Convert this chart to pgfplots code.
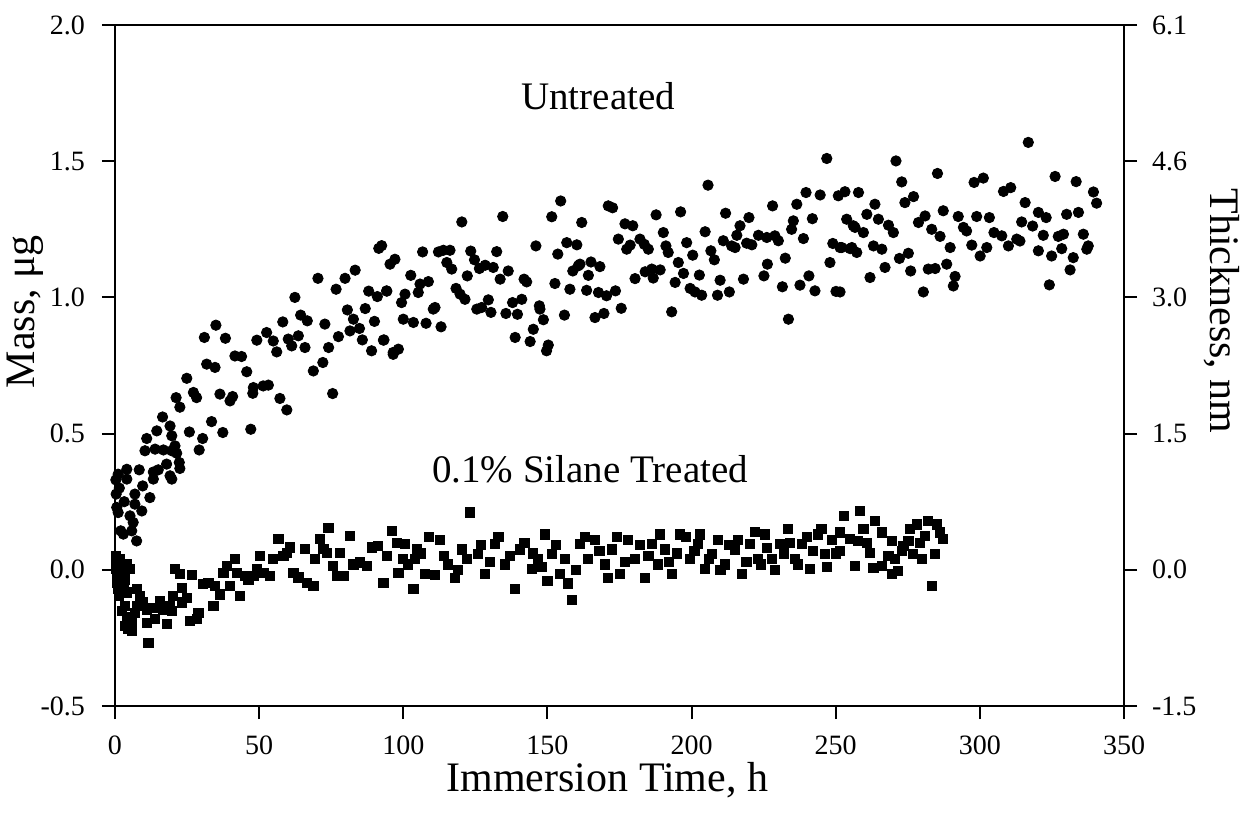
\documentclass[border=0pt]{standalone}
\usepackage{fontspec}
\setmainfont{Liberation Serif}
\usepackage{pgfplots}
\pgfplotsset{compat=1.18}
\pgfplotstableread{
t m
0.3 0.330
0.4 0.278
0.6 0.229
1.1 0.210
1.1 0.351
1.5 0.300
2.0 0.143
2.9 0.131
3.2 0.250
4.1 0.333
4.1 0.369
5.2 0.198
5.8 0.143
6.3 0.174
6.9 0.278
6.9 0.241
7.5 0.106
8.4 0.367
9.3 0.216
9.6 0.308
10.4 0.437
11.0 0.482
12.1 0.265
13.3 0.359
13.3 0.333
13.9 0.443
14.5 0.510
15.0 0.367
16.5 0.561
16.8 0.440
17.9 0.388
19.1 0.345
19.1 0.528
19.7 0.437
19.7 0.492
19.7 0.333
20.8 0.455
21.2 0.632
21.4 0.428
22.3 0.394
22.5 0.372
22.5 0.597
24.9 0.703
25.8 0.506
27.2 0.651
28.3 0.632
29.2 0.440
30.4 0.482
31.0 0.853
31.8 0.755
33.5 0.544
34.7 0.743
35.0 0.898
36.4 0.645
37.4 0.504
38.3 0.850
39.9 0.620
40.8 0.636
41.6 0.785
43.9 0.783
45.7 0.727
47.1 0.516
47.8 0.648
48.0 0.669
49.2 0.843
51.4 0.675
52.6 0.871
53.2 0.678
54.9 0.840
56.1 0.800
57.2 0.629
58.2 0.910
59.6 0.587
60.1 0.847
61.3 0.822
62.4 1.000
63.6 0.859
64.4 0.935
65.9 0.816
66.7 0.914
68.8 0.730
70.4 1.070
72.1 0.761
72.8 0.902
74.1 0.816
75.5 0.647
76.7 1.030
77.5 0.856
79.8 1.070
80.6 0.954
81.5 0.877
82.7 0.920
83.3 1.100
84.8 0.886
85.8 0.844
86.8 0.959
88.0 1.023
89.0 0.804
90.0 0.912
91.0 1.003
91.5 1.180
92.5 1.190
93.1 0.843
93.3 0.844
94.2 1.024
94.3 1.023
95.4 1.122
96.5 0.791
96.5 0.798
97.1 1.140
98.3 0.810
99.4 0.981
100.0 0.920
100.6 1.012
102.6 1.081
103.5 0.908
105.2 1.018
105.8 1.049
106.7 1.167
107.9 0.905
108.7 1.058
110.4 0.957
111.0 0.963
112.2 1.167
113.1 0.892
113.9 1.173
115.1 1.128
116.2 1.173
116.8 1.104
118.3 1.033
119.7 1.012
120.3 1.277
121.4 0.993
122.2 1.079
123.4 1.170
124.7 1.138
125.5 0.957
126.4 1.106
127.2 0.963
128.4 1.118
129.5 0.991
130.4 0.945
131.2 1.110
132.4 1.168
133.6 1.067
134.5 1.297
135.6 0.941
136.4 1.097
137.9 0.981
138.8 0.853
139.6 0.938
141.1 0.993
141.9 1.067
142.8 1.057
144.0 0.838
145.1 0.883
146.0 1.189
147.2 0.969
147.4 0.957
148.6 0.918
149.7 0.804
150.3 0.825
151.5 1.296
152.6 1.051
153.6 1.159
154.6 1.354
155.9 0.935
156.7 1.201
157.8 1.030
158.8 1.097
160.2 1.193
160.7 1.116
161.3 1.122
161.9 1.275
163.6 1.026
164.2 1.081
165.1 1.130
166.5 0.926
167.7 1.018
168.2 1.113
169.6 0.941
170.5 1.006
171.1 1.336
172.6 1.329
173.6 1.024
174.6 1.214
175.6 0.960
176.9 1.270
177.5 1.177
178.7 1.192
179.6 1.263
180.4 1.069
182.1 1.214
183.6 1.195
183.9 1.094
185.0 1.177
186.2 1.104
186.7 1.071
187.7 1.303
189.1 1.101
190.2 1.238
191.1 1.189
191.9 1.165
193.1 0.947
194.3 1.055
195.4 1.128
196.2 1.314
197.2 1.088
198.3 1.201
199.5 1.033
200.4 1.155
201.2 1.020
202.7 1.082
203.5 1.008
204.7 1.241
205.7 1.412
206.7 1.171
207.9 1.138
209.0 1.008
209.9 1.063
211.0 1.208
211.8 1.309
213.1 1.020
213.9 1.189
215.1 1.183
215.7 1.228
216.8 1.263
218.0 1.067
219.1 1.199
219.9 1.293
220.9 1.193
223.2 1.228
225.1 1.079
226.1 1.220
226.3 1.122
228.1 1.336
228.9 1.226
230.1 1.208
231.5 1.039
232.5 1.144
233.6 0.920
234.7 1.250
235.3 1.281
236.5 1.342
237.6 1.045
238.8 1.216
239.7 1.385
240.7 1.079
241.9 1.289
242.8 1.024
244.6 1.376
246.9 1.510
248.0 1.128
249.0 1.198
250.1 1.022
250.9 1.373
251.5 1.183
251.5 1.020
252.1 1.183
253.2 1.388
253.8 1.287
255.0 1.179
255.6 1.183
256.1 1.263
256.7 1.257
257.3 1.165
257.9 1.385
259.6 1.238
260.8 1.305
261.9 1.073
263.1 1.189
263.6 1.342
264.8 1.287
266.0 1.177
267.1 1.110
268.3 1.265
270.0 1.238
270.9 1.501
272.1 1.143
272.9 1.424
274.0 1.348
275.2 1.162
276.0 1.097
277.0 1.370
278.7 1.275
280.4 1.020
281.0 1.299
282.1 1.104
283.3 1.250
284.5 1.106
285.3 1.455
286.2 1.224
287.3 1.318
288.5 1.122
289.7 1.183
290.8 1.042
291.4 1.077
292.5 1.297
294.3 1.257
295.4 1.244
297.2 1.192
298.0 1.422
298.9 1.297
300.1 1.152
301.2 1.438
302.4 1.183
303.3 1.293
304.9 1.238
307.6 1.226
308.2 1.389
309.9 1.189
310.7 1.403
312.8 1.214
313.9 1.207
314.5 1.277
315.7 1.348
316.8 1.569
318.3 1.262
320.3 1.312
320.3 1.171
322.0 1.228
323.0 1.293
324.1 1.046
324.9 1.152
326.1 1.444
327.2 1.224
328.4 1.179
329.0 1.232
330.1 1.305
331.3 1.101
332.4 1.146
333.4 1.425
334.2 1.312
335.9 1.232
337.1 1.177
337.6 1.189
339.4 1.387
340.5 1.346
}\untreated
\pgfplotstableread{
t m
0.2 0.051
0.4 0.027
0.5 0.002
0.6 -0.022
0.8 -0.047
1.0 -0.071
1.3 -0.096
1.5 -0.030
1.8 0.040
2.3 0.008
2.3 -0.151
2.9 -0.065
3.5 -0.035
3.5 -0.132
3.5 -0.206
4.0 0.020
4.0 -0.083
4.0 -0.175
4.6 -0.218
5.2 0.002
5.8 -0.224
5.8 -0.187
6.9 -0.157
7.5 -0.132
7.5 -0.071
8.7 -0.096
9.8 -0.120
11.0 -0.145
11.0 -0.194
11.6 -0.267
12.7 -0.139
13.9 -0.181
15.0 -0.139
15.6 -0.114
16.8 -0.145
17.9 -0.200
19.1 -0.132
19.7 -0.151
20.2 -0.096
20.8 0.002
22.5 -0.016
23.1 -0.065
23.1 -0.120
24.9 -0.102
26.0 -0.187
26.6 -0.020
28.3 -0.181
28.9 -0.157
30.6 -0.053
32.4 -0.047
34.1 -0.132
34.7 -0.059
36.4 -0.090
37.6 -0.010
38.7 0.014
39.9 -0.059
41.6 0.039
42.2 -0.010
43.4 -0.096
45.1 -0.022
46.3 -0.035
48.0 -0.022
49.1 0.002
50.3 0.051
51.5 -0.010
53.8 -0.022
54.9 0.039
56.7 0.112
58.4 0.051
59.5 0.063
60.7 0.082
61.9 -0.010
63.6 -0.028
65.9 0.076
66.5 -0.047
68.8 -0.059
69.4 0.039
71.1 0.112
72.3 0.076
73.4 0.063
74.0 0.155
75.7 0.014
76.9 -0.022
78.0 0.063
79.2 -0.022
81.5 0.125
82.7 0.020
85.0 0.027
87.3 0.014
89.0 0.082
91.3 0.088
93.1 -0.047
94.2 0.051
96.0 0.143
97.7 0.100
98.3 -0.010
100.0 0.039
100.6 0.094
101.5 0.020
103.5 -0.071
104.1 0.040
104.6 0.076
106.0 0.060
107.5 -0.015
109.0 0.120
111.0 -0.020
112.7 0.110
114.0 0.050
115.5 0.020
117.9 -0.030
119.0 0.000
120.4 0.075
122.0 0.040
123.1 0.211
125.9 0.057
127.0 0.090
128.4 -0.015
130.0 0.030
131.8 0.094
133.0 0.120
135.3 0.020
137.0 0.050
138.8 -0.070
140.5 0.075
142.0 0.100
144.7 0.002
145.0 0.060
146.7 0.040
148.0 0.010
149.2 0.130
150.0 -0.040
151.6 0.057
153.0 0.090
154.4 -0.015
156.0 0.040
157.1 -0.050
158.5 -0.110
160.0 0.000
161.3 0.094
163.0 0.120
164.1 0.040
166.5 0.110
168.0 0.070
170.0 0.020
171.0 -0.030
172.4 0.075
174.0 0.120
175.2 -0.015
177.0 0.030
178.0 0.110
180.4 0.040
182.0 0.090
183.9 -0.030
185.0 0.050
186.3 0.094
188.4 0.020
189.0 0.130
190.8 0.075
192.0 0.030
193.2 -0.015
195.0 0.060
196.0 0.130
198.0 0.120
199.5 0.040
201.0 0.070
202.2 0.094
203.0 0.130
204.7 0.002
206.0 0.040
207.1 0.057
209.2 0.110
210.0 0.000
211.6 0.020
213.0 0.090
215.1 0.075
216.0 0.110
217.5 -0.015
219.0 0.030
220.3 0.094
222.0 0.140
223.1 0.040
224.0 0.020
225.5 0.130
226.0 0.080
227.9 0.040
229.0 0.000
230.7 0.094
232.0 0.060
233.5 0.150
234.0 0.100
235.9 0.040
237.0 0.020
238.3 0.094
240.0 0.120
241.1 0.002
242.0 0.070
243.9 0.130
245.0 0.150
246.3 0.057
247.0 0.010
248.7 0.110
250.0 0.060
251.5 0.137
251.5 0.069
252.7 0.198
255.0 0.112
256.7 0.014
257.8 0.106
258.4 0.216
259.6 0.149
260.7 0.100
261.9 0.063
263.1 0.008
263.6 0.180
266.0 0.137
266.0 0.014
268.3 0.051
269.4 0.106
269.4 -0.016
270.6 0.039
271.7 -0.004
272.9 0.069
273.5 0.088
275.2 0.106
275.8 0.149
276.9 0.057
278.1 0.167
279.3 0.100
279.8 0.039
281.0 0.125
282.1 0.180
283.3 -0.059
284.5 0.057
285.0 0.167
286.2 0.137
287.3 0.112
}\silane
\begin{document}
\begin{tikzpicture}
\path[use as bounding box] (-57.5pt,-57.5pt) rectangle (564pt,353pt);
\begin{axis}[
  at={(0pt,0pt)}, anchor=south west,
  scale only axis, width=504.5pt, height=340.5pt,
  xmin=0, xmax=350, ymin=-0.5, ymax=2.0,
  axis line style={line width=1pt},
  tick style={line width=1pt, black},
  tick align=outside, major tick length=6.5pt,
  xtick pos=bottom, ytick pos=left,
  xtick={0,50,100,150,200,250,300,350},
  xticklabels={0,50,100,150,200,250,300,350},
  ytick={-0.5,0,0.5,1,1.5,2},
  yticklabels={-0.5,0.0,0.5,1.0,1.5,2.0},
  ticklabel style={font=\fontsize{14}{16}\selectfont},
  xticklabel style={yshift=-5pt},
  yticklabel style={xshift=-5pt},
  xlabel={Immersion Time, h}, ylabel={Mass, μg},
  label style={font=\fontsize{21}{24}\selectfont},
  xlabel style={at={(axis description cs:0.488,-0.109)}, anchor=center},
  ylabel style={at={(axis description cs:-0.089,0.579)}, anchor=center},
  clip=false,
]
\addplot[only marks, mark=*, mark size=2.6pt, black] table[x=t,y=m] {\untreated};
\addplot[only marks, mark=square*, mark size=2.3pt, black] table[x=t,y=m] {\silane};
\node[font=\fontsize{19.5}{22}\selectfont] at (axis cs:167.6,1.739) {Untreated};
\node[font=\fontsize{19.5}{22}\selectfont] at (axis cs:164.8,0.369) {0.1\% Silane Treated};
\end{axis}
\begin{axis}[
  at={(0pt,0pt)}, anchor=south west,
  scale only axis, width=504.5pt, height=340.5pt,
  xmin=0, xmax=350, ymin=-0.5, ymax=2.0,
  axis x line=none, axis y line*=right,
  axis line style={line width=1pt},
  tick style={line width=1pt, black},
  tick align=outside, major tick length=6.5pt,
  ytick={-0.5,0,0.5,1,1.5,2},
  yticklabels={-1.5,0.0,1.5,3.0,4.6,6.1},
  ticklabel style={font=\fontsize{14}{16}\selectfont},
  yticklabel style={xshift=4pt},
  ylabel={Thickness, nm},
  label style={font=\fontsize{21}{24}\selectfont},
  ylabel style={at={(axis description cs:1.097,0.58)}, anchor=center, rotate=180},
]
\end{axis}
\end{tikzpicture}
\end{document}
